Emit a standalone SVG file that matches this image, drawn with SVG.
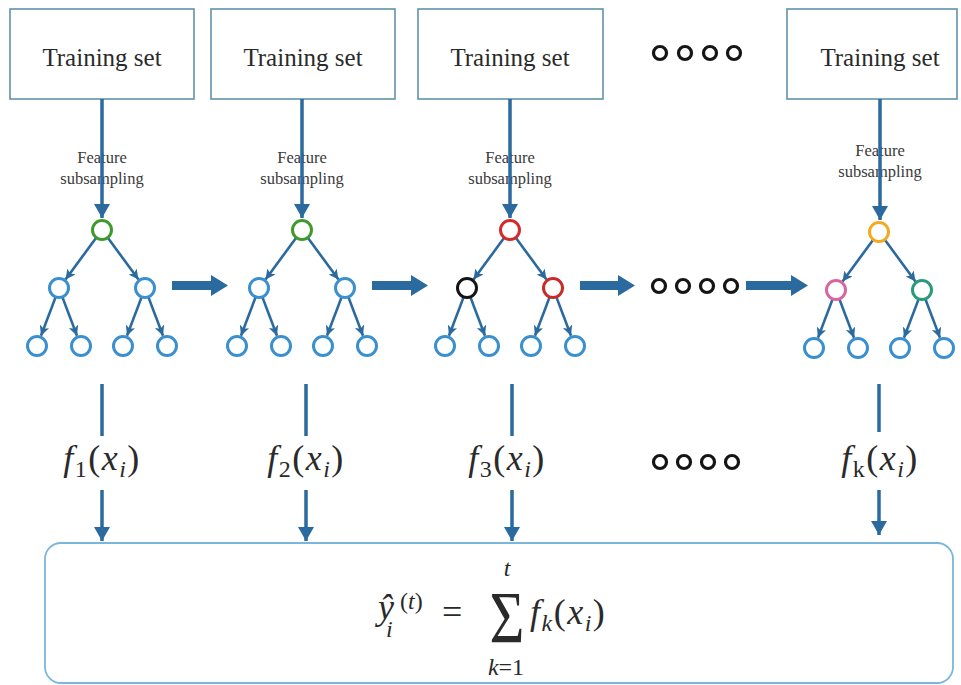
<svg xmlns="http://www.w3.org/2000/svg" width="961" height="685" viewBox="0 0 961 685">
  <defs>
    <marker id="tip" markerUnits="userSpaceOnUse" markerWidth="12" markerHeight="12" refX="10" refY="5" orient="auto">
      <path d="M0,0 L10,5 L0,10 L2.5,5 Z" fill="#2b6a9e"/>
    </marker>
    <marker id="bigtip" markerUnits="userSpaceOnUse" markerWidth="16" markerHeight="16" refX="14" refY="8" orient="auto">
      <path d="M0,0 L14,8 L0,16 Z" fill="#2b6a9e"/>
    </marker>
  </defs>
  <style>
    .box { fill: #ffffff; stroke: #5f93a8; stroke-width: 1.6; }
    .ttl { font-family: "Liberation Serif", "DejaVu Serif", serif; font-size: 25px; fill: #2a2a2a; text-anchor: middle; }
    .fs { font-family: "Liberation Serif", "DejaVu Serif", serif; font-size: 16.5px; fill: #3a3a3a; text-anchor: middle; }
    .feed { stroke: #2b6a9e; stroke-width: 3.5; fill: none; }
    .edge { stroke: #2b6a9e; stroke-width: 2.6; fill: none; marker-end: url(#tip); }
    .node { fill: #ffffff; stroke: #3a8fcf; stroke-width: 3; }
    .dot { fill: none; stroke: #151515; stroke-width: 3.2; }
    .fx { font-family: "Liberation Serif", "DejaVu Serif", serif; font-size: 36px; fill: #2a2a2a; text-anchor: middle; letter-spacing: 1.5px; }
    .eq { font-family: "Liberation Serif", "DejaVu Serif", serif; font-size: 36px; fill: #2a2a2a; }
    .sm { font-size: 24px; }
    .it { font-style: italic; }
    .mid { text-anchor: middle; }
    .sum { fill: #ffffff; stroke: #7ab6dc; stroke-width: 1.8; }
    .band { fill: #2b6a9e; }
  </style>

  <!-- training set boxes -->
  <g id="ts1"><rect class="box" x="10" y="9" width="184" height="90"/><text class="ttl" x="102" y="66">Training set</text></g>
  <g id="ts2"><rect class="box" x="211" y="9" width="184" height="90"/><text class="ttl" x="303" y="66">Training set</text></g>
  <g id="ts3"><rect class="box" x="418" y="9" width="185" height="90"/><text class="ttl" x="510" y="66">Training set</text></g>
  <g id="ts4"><rect class="box" x="787" y="9" width="170" height="90"/><text class="ttl" x="880" y="66">Training set</text></g>

  <!-- ellipsis rows -->
  <g id="more-top">
    <circle class="dot" cx="660" cy="53" r="6.5"/><circle class="dot" cx="685" cy="53" r="6.5"/>
    <circle class="dot" cx="710" cy="53" r="6.5"/><circle class="dot" cx="734" cy="53" r="6.5"/>
  </g>
  <g id="more-mid">
    <circle class="dot" cx="659" cy="286" r="6.5"/><circle class="dot" cx="683" cy="286" r="6.5"/>
    <circle class="dot" cx="707" cy="286" r="6.5"/><circle class="dot" cx="731" cy="286" r="6.5"/>
  </g>
  <g id="more-bot">
    <circle class="dot" cx="660" cy="462" r="6.5"/><circle class="dot" cx="684" cy="462" r="6.5"/>
    <circle class="dot" cx="708" cy="462" r="6.5"/><circle class="dot" cx="732" cy="462" r="6.5"/>
  </g>

  <!-- feature subsampling labels -->
  <g id="fs1"><text class="fs" x="102" y="163">Feature</text><text class="fs" x="102" y="184">subsampling</text></g>
  <g id="fs2"><text class="fs" x="302" y="163">Feature</text><text class="fs" x="302" y="184">subsampling</text></g>
  <g id="fs3"><text class="fs" x="510" y="163">Feature</text><text class="fs" x="510" y="184">subsampling</text></g>
  <g id="fs4"><text class="fs" x="880" y="156">Feature</text><text class="fs" x="880" y="177">subsampling</text></g>

  <!-- connectors -->
  <g id="connectors">
    <!-- training set to root -->
    <line class="feed" x1="102" y1="99" x2="102" y2="218" marker-end="url(#bigtip)"/>
    <line class="feed" x1="302" y1="99" x2="302" y2="218" marker-end="url(#bigtip)"/>
    <line class="feed" x1="510" y1="99" x2="510" y2="218" marker-end="url(#bigtip)"/>
    <line class="feed" x1="880" y1="99" x2="880" y2="220" marker-end="url(#bigtip)"/>

    <!-- between trees -->
    <path class="band" d="M172,281 L211,281 L211,275 L228,285.5 L211,296 L211,290 L172,290 Z"/>
    <path class="band" d="M372,281 L411,281 L411,275 L428,285.5 L411,296 L411,290 L372,290 Z"/>
    <path class="band" d="M580,281 L618,281 L618,275 L635,285.5 L618,296 L618,290 L580,290 Z"/>
    <path class="band" d="M746,281 L791,281 L791,275 L808,285.5 L791,296 L791,290 L746,290 Z"/>

    <!-- tree outputs -->
    <line class="feed" x1="102" y1="384" x2="102" y2="436"/>
    <line class="feed" x1="306" y1="384" x2="306" y2="436"/>
    <line class="feed" x1="512" y1="384" x2="512" y2="436"/>
    <line class="feed" x1="879" y1="384" x2="879" y2="432"/>
    <line class="feed" x1="102" y1="490" x2="102" y2="541" marker-end="url(#bigtip)"/>
    <line class="feed" x1="306" y1="490" x2="306" y2="541" marker-end="url(#bigtip)"/>
    <line class="feed" x1="512" y1="490" x2="512" y2="541" marker-end="url(#bigtip)"/>
    <line class="feed" x1="879" y1="490" x2="879" y2="535" marker-end="url(#bigtip)"/>
  </g>

  <!-- tree 1 -->
  <g id="tree1" transform="translate(102,230)">
    <path class="edge" d="M-6,8 L-36.5,49.5"/><path class="edge" d="M6,8 L36.5,49.5"/>
    <path class="edge" d="M-46.5,67.4 L-61,105.7"/><path class="edge" d="M-39.5,67.4 L-25,105.7"/>
    <path class="edge" d="M39.5,67.4 L25,105.7"/><path class="edge" d="M46.5,67.4 L61,105.7"/>
    <circle class="node" cx="0" cy="0" r="9.5" style="stroke:#3f9a2c"/>
    <circle class="node" cx="-43" cy="58" r="9.5"/><circle class="node" cx="43" cy="58" r="9.5"/>
    <circle class="node" cx="-65" cy="116" r="9.5"/><circle class="node" cx="-21" cy="116" r="9.5"/>
    <circle class="node" cx="21" cy="116" r="9.5"/><circle class="node" cx="65" cy="116" r="9.5"/>
  </g>

  <!-- tree 2 -->
  <g id="tree2" transform="translate(302,230)">
    <path class="edge" d="M-6,8 L-36.5,49.5"/><path class="edge" d="M6,8 L36.5,49.5"/>
    <path class="edge" d="M-46.5,67.4 L-61,105.7"/><path class="edge" d="M-39.5,67.4 L-25,105.7"/>
    <path class="edge" d="M39.5,67.4 L25,105.7"/><path class="edge" d="M46.5,67.4 L61,105.7"/>
    <circle class="node" cx="0" cy="0" r="9.5" style="stroke:#3f9a2c"/>
    <circle class="node" cx="-43" cy="58" r="9.5"/><circle class="node" cx="43" cy="58" r="9.5"/>
    <circle class="node" cx="-65" cy="116" r="9.5"/><circle class="node" cx="-21" cy="116" r="9.5"/>
    <circle class="node" cx="21" cy="116" r="9.5"/><circle class="node" cx="65" cy="116" r="9.5"/>
  </g>

  <!-- tree 3 -->
  <g id="tree3" transform="translate(510,230)">
    <path class="edge" d="M-6,8 L-36.5,49.5"/><path class="edge" d="M6,8 L36.5,49.5"/>
    <path class="edge" d="M-46.5,67.4 L-61,105.7"/><path class="edge" d="M-39.5,67.4 L-25,105.7"/>
    <path class="edge" d="M39.5,67.4 L25,105.7"/><path class="edge" d="M46.5,67.4 L61,105.7"/>
    <circle class="node" cx="0" cy="0" r="9.5" style="stroke:#d42a2a"/>
    <circle class="node" cx="-43" cy="58" r="9.5" style="stroke:#141414"/>
    <circle class="node" cx="43" cy="58" r="9.5" style="stroke:#c82a2a"/>
    <circle class="node" cx="-65" cy="116" r="9.5"/><circle class="node" cx="-21" cy="116" r="9.5"/>
    <circle class="node" cx="21" cy="116" r="9.5"/><circle class="node" cx="65" cy="116" r="9.5"/>
  </g>

  <!-- tree k -->
  <g id="tree4" transform="translate(879,232)">
    <path class="edge" d="M-6,8 L-36.5,49.5"/><path class="edge" d="M6,8 L36.5,49.5"/>
    <path class="edge" d="M-46.5,67.4 L-61,105.7"/><path class="edge" d="M-39.5,67.4 L-25,105.7"/>
    <path class="edge" d="M39.5,67.4 L25,105.7"/><path class="edge" d="M46.5,67.4 L61,105.7"/>
    <circle class="node" cx="0" cy="0" r="9.5" style="stroke:#f2aa22"/>
    <circle class="node" cx="-43" cy="58" r="9.5" style="stroke:#d8669e"/>
    <circle class="node" cx="43" cy="58" r="9.5" style="stroke:#2a9a7a"/>
    <circle class="node" cx="-65" cy="116" r="9.5"/><circle class="node" cx="-21" cy="116" r="9.5"/>
    <circle class="node" cx="21" cy="116" r="9.5"/><circle class="node" cx="65" cy="116" r="9.5"/>
  </g>

  <!-- per-tree outputs -->
  <g id="f1"><text class="fx" x="102" y="470"><tspan class="it">f</tspan><tspan class="sm" dy="7">1</tspan><tspan dy="-7">(</tspan><tspan class="it">x</tspan><tspan class="it sm" dy="7">i</tspan><tspan dy="-7">)</tspan></text></g>
  <g id="f2"><text class="fx" x="306" y="470"><tspan class="it">f</tspan><tspan class="sm" dy="7">2</tspan><tspan dy="-7">(</tspan><tspan class="it">x</tspan><tspan class="it sm" dy="7">i</tspan><tspan dy="-7">)</tspan></text></g>
  <g id="f3"><text class="fx" x="507" y="470"><tspan class="it">f</tspan><tspan class="sm" dy="7">3</tspan><tspan dy="-7">(</tspan><tspan class="it">x</tspan><tspan class="it sm" dy="7">i</tspan><tspan dy="-7">)</tspan></text></g>
  <g id="fk"><text class="fx" x="880" y="470"><tspan class="it">f</tspan><tspan class="sm" dy="7">k</tspan><tspan dy="-7">(</tspan><tspan class="it">x</tspan><tspan class="it sm" dy="7">i</tspan><tspan dy="-7">)</tspan></text></g>

  <!-- ensemble sum -->
  <g id="ensemble">
    <rect class="sum" x="45" y="543" width="908" height="140" rx="16"/>
    <text class="eq it" x="378" y="619">ŷ</text>
    <text class="eq it sm" x="386" y="637">i</text>
    <text class="eq sm" x="400" y="609">(<tspan class="it">t</tspan>)</text>
    <text class="eq" x="442" y="624">=</text>
    <text class="eq it sm mid" x="507" y="576">t</text>
    <text class="eq mid" transform="translate(507,643) scale(1,1.25)" x="0" y="0" style="font-size:60px">Σ</text>
    <text class="eq sm mid" x="506" y="675"><tspan class="it">k</tspan>=1</text>
    <text class="eq" x="530" y="624" letter-spacing="1.5"><tspan class="it">f</tspan><tspan class="it sm" dy="7">k</tspan><tspan dy="-7">(</tspan><tspan class="it">x</tspan><tspan class="it sm" dy="7">i</tspan><tspan dy="-7">)</tspan></text>
  </g>
</svg>
